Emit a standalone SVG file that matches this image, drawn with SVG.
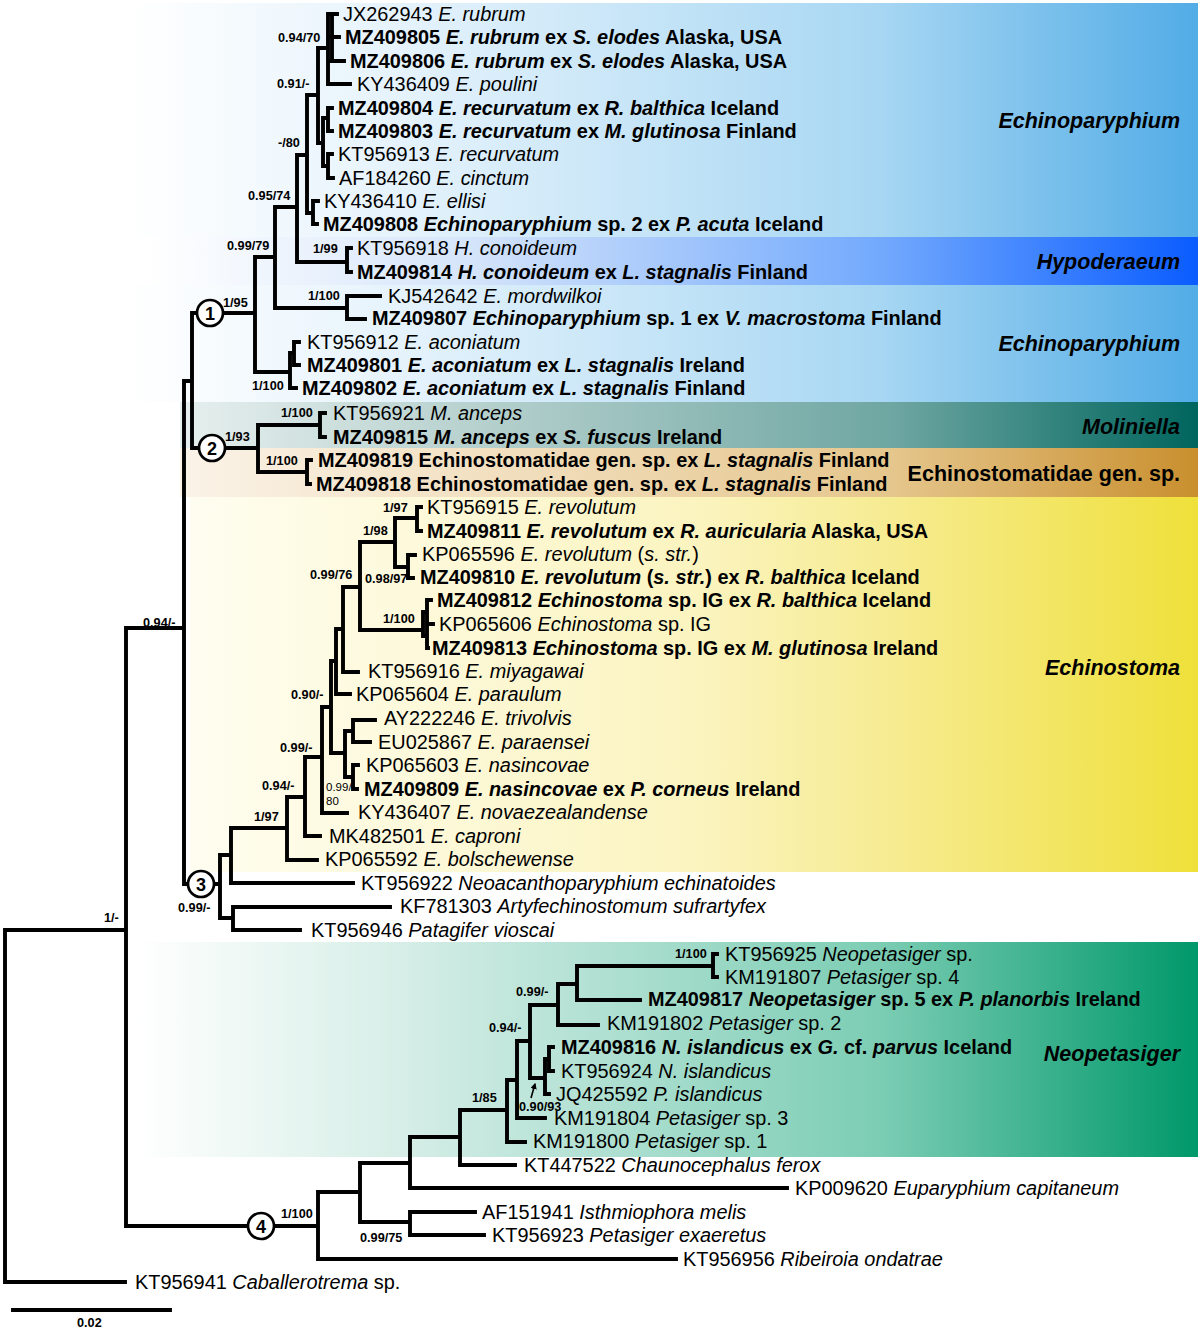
<svg xmlns="http://www.w3.org/2000/svg" width="1200" height="1329" viewBox="0 0 1200 1329">
<defs>
<linearGradient id="gEp" x1="0" y1="0" x2="1" y2="0"><stop offset="0" stop-color="#ffffff"/><stop offset="0.25" stop-color="#e6f3fc"/><stop offset="0.7" stop-color="#a8d7f3"/><stop offset="1" stop-color="#52ace6"/></linearGradient>
<linearGradient id="gHy" x1="0" y1="0" x2="1" y2="0"><stop offset="0" stop-color="#ffffff"/><stop offset="0.3" stop-color="#d6e5fa"/><stop offset="0.7" stop-color="#72a9fd"/><stop offset="1" stop-color="#0a5cff"/></linearGradient>
<linearGradient id="gMo" x1="0" y1="0" x2="1" y2="0"><stop offset="0" stop-color="#e6efee"/><stop offset="0.3" stop-color="#b5d0cd"/><stop offset="0.7" stop-color="#6ea6a2"/><stop offset="1" stop-color="#00655d"/></linearGradient>
<linearGradient id="gEc" x1="0" y1="0" x2="1" y2="0"><stop offset="0" stop-color="#fbf3e8"/><stop offset="0.7" stop-color="#e5c68c"/><stop offset="1" stop-color="#c98f2e"/></linearGradient>
<linearGradient id="gEs" x1="0" y1="0" x2="1" y2="0"><stop offset="0" stop-color="#fffdf0"/><stop offset="0.5" stop-color="#fbf4c0"/><stop offset="0.7" stop-color="#f6eb90"/><stop offset="1" stop-color="#efe03a"/></linearGradient>
<linearGradient id="gNe" x1="0" y1="0" x2="1" y2="0"><stop offset="0" stop-color="#ffffff"/><stop offset="0.25" stop-color="#d6eee7"/><stop offset="0.7" stop-color="#7ccdb4"/><stop offset="1" stop-color="#00986a"/></linearGradient>
<marker id="ah" viewBox="0 0 10 10" refX="8" refY="5" markerWidth="4" markerHeight="4" orient="auto"><path d="M0,0 L10,5 L0,10 z" fill="#000"/></marker>
<style>
.ln{fill:none;stroke:#000;stroke-width:3.9;stroke-linecap:square}
.t{font-family:"Liberation Sans",Arial,sans-serif;font-size:19.9px;fill:#000}
.b{font-weight:bold}
.i{font-style:italic}
.s{font-family:"Liberation Sans",Arial,sans-serif;font-size:12.7px;font-weight:bold;fill:#000}
.s2{font-family:"Liberation Sans",Arial,sans-serif;font-size:11.5px;fill:#000}
.c{font-family:"Liberation Sans",Arial,sans-serif;font-size:21.5px;font-weight:bold;font-style:italic;text-anchor:end;fill:#000}
.cr{font-family:"Liberation Sans",Arial,sans-serif;font-size:21.5px;font-weight:bold;font-style:normal;text-anchor:end;fill:#000}
.cn{font-family:"Liberation Sans",Arial,sans-serif;font-size:18px;font-weight:bold;text-anchor:middle;fill:#000}
.circ{fill:#fff;stroke:#000;stroke-width:2.7}
</style>
</defs>
<rect width="1200" height="1329" fill="#fff"/>
<g id="bands">
<rect x="128" y="3" width="1070" height="234" fill="url(#gEp)"/>
<rect x="150" y="237" width="1048" height="48" fill="url(#gHy)"/>
<rect x="128" y="285" width="1070" height="117" fill="url(#gEp)"/>
<rect x="180" y="402" width="1018" height="46" fill="url(#gMo)"/>
<rect x="180" y="448" width="1018" height="49" fill="url(#gEc)"/>
<rect x="190" y="497" width="1008" height="375" fill="url(#gEs)"/>
<rect x="135" y="942" width="1063" height="215" fill="url(#gNe)"/>
</g>
<g id="clade-labels">
<text class="c" x="1180" y="128">Echinoparyphium</text>
<text class="c" x="1180" y="269">Hypoderaeum</text>
<text class="c" x="1180" y="351">Echinoparyphium</text>
<text class="c" x="1180" y="434">Moliniella</text>
<text class="cr" x="1180" y="481">Echinostomatidae gen. sp.</text>
<text class="c" x="1180" y="675">Echinostoma</text>
<text class="c" x="1180" y="1061">Neopetasiger</text>
</g>
<g id="connectors">
<path class="ln" d="M5,930 V1282 M5,930 H126 M5,1282 H125
M126,628 V1226 M126,628 H184 M126,1226 H248 M274,1226 H318
M184,381 V884 M184,381 H192 M184,884 H188 M214,884 H220
M192,313 V448 M192,313 H197 M223,313 H255 M192,448 H199 M225,448 H258
M255,257 V372 M255,257 H275 M255,372 H290
M275,207 V308 M275,207 H297 M275,308 H347
M347,296 V319 M347,296 H380 M347,319 H365
M297,155 V262 M297,155 H307 M297,262 H347
M347,248 V272 M347,248 H351 M347,272 H351
M307,95 V213 M307,95 H318 M307,213 H313
M313,201 V224 M313,201 H318 M313,224 H317
M318,48 V143 M318,48 H328 M318,143 H323
M328,14 V84 M328,84 H350 M332,14 V61 M331,14 H337 M331,37 H339 M331,61 H344
M323,118 V166 M323,118 H328 M323,166 H328 M328,108 V131 M328,154 V178 M328,108 H332 M328,131 H332 M328,154 H332 M328,178 H333
M290,353 V388 M290,388 H296 M290,353 H294 M294,342 V365 M294,342 H299 M294,365 H299
M258,425 V472 M258,425 H320 M258,472 H307
M320,413 V437 M320,413 H325 M320,437 H325
M307,460 V484 M307,460 H311 M307,484 H310
M220,855 V918 M220,855 H231 M220,918 H233
M233,907 V930 M233,907 H390 M233,930 H300
M231,828 V883 M231,828 H287 M231,883 H353
M287,797 V860 M287,797 H305 M287,860 H317
M305,757 V836 M305,757 H322 M305,836 H320
M322,707 V813 M322,707 H331 M322,813 H347
M331,661 V753 M331,661 H336 M331,753 H345
M336,629 V694 M336,629 H343 M336,694 H350
M343,587 V672 M343,587 H360 M343,672 H358
M360,542 V630 M360,542 H395 M360,630 H423
M395,518 V567 M395,518 H417 M395,567 H408
M417,507 V531 M417,507 H421 M417,531 H421
M408,555 V578 M408,555 H415 M408,578 H413
M423,612 V636 M423,612 H427 M423,636 H427 M427,600 V648 M427,600 H431 M427,624 H433 M427,648 H428
M345,731 V777 M345,731 H353 M345,777 H353
M353,720 V742 M353,720 H375 M353,742 H370
M353,765 V789 M353,765 H358 M353,789 H357
M318,1192 V1259 M318,1192 H360 M318,1259 H676
M360,1163 V1222 M360,1163 H410 M360,1222 H410
M410,1212 V1235 M410,1212 H475 M410,1235 H484
M410,1137 V1188 M410,1137 H460 M410,1188 H787
M460,1110 V1165 M460,1110 H507 M460,1165 H515
M507,1080 V1142 M507,1080 H517 M507,1142 H525
M517,1041 V1118 M517,1041 H530 M517,1118 H545
M530,1005 V1078 M530,1005 H558 M530,1078 H545
M545,1059 V1094 M545,1094 H549 M545,1059 H549 M549,1047 V1071 M549,1047 H553 M549,1071 H553
M558,984 V1025 M558,984 H577 M558,1025 H598
M577,966 V1000 M577,966 H713 M577,1000 H640
M713,954 V977 M713,954 H717 M713,977 H717"/>
<path d="M531,1098 L535,1084" stroke="#000" stroke-width="1.6" fill="none" marker-end="url(#ah)"/>
<path class="ln" d="M13,1310 H170" stroke-width="3"/>
</g>
<g id="circle-nodes">
<g id="n1"><circle class="circ" cx="210" cy="313" r="13"/><text class="cn" x="210" y="319.5">1</text></g>
<g id="n2"><circle class="circ" cx="212" cy="448" r="13"/><text class="cn" x="212" y="454.5">2</text></g>
<g id="n3"><circle class="circ" cx="201" cy="884" r="13"/><text class="cn" x="201" y="890.5">3</text></g>
<g id="n4"><circle class="circ" cx="261" cy="1226" r="13"/><text class="cn" x="261" y="1232.5">4</text></g>
</g>
<g id="support">
<text class="s" x="278" y="42">0.94/70</text>
<text class="s" x="277" y="88">0.91/-</text>
<text class="s" x="278" y="147">-/80</text>
<text class="s" x="248" y="200">0.95/74</text>
<text class="s" x="227" y="250">0.99/79</text>
<text class="s" x="313" y="253">1/99</text>
<text class="s" x="223" y="307">1/95</text>
<text class="s" x="308" y="300">1/100</text>
<text class="s" x="252" y="390">1/100</text>
<text class="s" x="281" y="417">1/100</text>
<text class="s" x="225" y="441">1/93</text>
<text class="s" x="266" y="465">1/100</text>
<text class="s" x="383" y="512">1/97</text>
<text class="s" x="363" y="535">1/98</text>
<text class="s" x="310" y="579">0.99/76</text>
<text class="s" x="365" y="583">0.98/97</text>
<text class="s" x="383" y="623">1/100</text>
<text class="s" x="143" y="627">0.94/-</text>
<text class="s" x="291" y="699">0.90/-</text>
<text class="s" x="280" y="752">0.99/-</text>
<text class="s" x="262" y="790">0.94/-</text>
<text class="s2" x="326" y="791">0.99/</text>
<text class="s2" x="326" y="805">80</text>
<text class="s" x="254" y="821">1/97</text>
<text class="s" x="178" y="912">0.99/-</text>
<text class="s" x="104" y="922">1/-</text>
<text class="s" x="675" y="958">1/100</text>
<text class="s" x="516" y="996">0.99/-</text>
<text class="s" x="489" y="1032">0.94/-</text>
<text class="s" x="472" y="1102">1/85</text>
<text class="s" x="519" y="1111">0.90/93</text>
<text class="s" x="281" y="1218">1/100</text>
<text class="s" x="360" y="1242">0.99/75</text>
<text class="s" x="77" y="1327">0.02</text>
</g>
<g id="leaves">
<text id="L1" class="t" x="343" y="21">JX262943 <tspan class="i">E. rubrum</tspan></text>
<text id="L2" class="t b" x="345" y="44">MZ409805 <tspan class="i">E. rubrum</tspan> ex <tspan class="i">S. elodes</tspan> Alaska, USA</text>
<text id="L3" class="t b" x="350" y="68">MZ409806 <tspan class="i">E. rubrum</tspan> ex <tspan class="i">S. elodes</tspan> Alaska, USA</text>
<text id="L4" class="t" x="357" y="91">KY436409 <tspan class="i">E. poulini</tspan></text>
<text id="L5" class="t b" x="338" y="115">MZ409804 <tspan class="i">E. recurvatum</tspan> ex <tspan class="i">R. balthica</tspan> Iceland</text>
<text id="L6" class="t b" x="338" y="138">MZ409803 <tspan class="i">E. recurvatum</tspan> ex <tspan class="i">M. glutinosa</tspan> Finland</text>
<text id="L7" class="t" x="338" y="161">KT956913 <tspan class="i">E. recurvatum</tspan></text>
<text id="L8" class="t" x="339" y="185">AF184260 <tspan class="i">E. cinctum</tspan></text>
<text id="L9" class="t" x="324" y="208">KY436410 <tspan class="i">E. ellisi</tspan></text>
<text id="L10" class="t b" x="323" y="231">MZ409808 <tspan class="i">Echinoparyphium</tspan> sp. 2 ex <tspan class="i">P. acuta</tspan> Iceland</text>
<text id="L11" class="t" x="357" y="255">KT956918 <tspan class="i">H. conoideum</tspan></text>
<text id="L12" class="t b" x="357" y="279">MZ409814 <tspan class="i">H. conoideum</tspan> ex <tspan class="i">L. stagnalis</tspan> Finland</text>
<text id="L13" class="t" x="388" y="303">KJ542642 <tspan class="i">E. mordwilkoi</tspan></text>
<text id="L14" class="t b" x="372" y="325">MZ409807 <tspan class="i">Echinoparyphium</tspan> sp. 1 ex <tspan class="i">V. macrostoma</tspan> Finland</text>
<text id="L15" class="t" x="307" y="349">KT956912 <tspan class="i">E. aconiatum</tspan></text>
<text id="L16" class="t b" x="307" y="372">MZ409801 <tspan class="i">E. aconiatum</tspan> ex <tspan class="i">L. stagnalis</tspan> Ireland</text>
<text id="L17" class="t b" x="302" y="395">MZ409802 <tspan class="i">E. aconiatum</tspan> ex <tspan class="i">L. stagnalis</tspan> Finland</text>
<text id="L18" class="t" x="333" y="420">KT956921 <tspan class="i">M. anceps</tspan></text>
<text id="L19" class="t b" x="333" y="444">MZ409815 <tspan class="i">M. anceps</tspan> ex <tspan class="i">S. fuscus</tspan> Ireland</text>
<text id="L20" class="t b" x="318" y="467">MZ409819 Echinostomatidae gen. sp. ex <tspan class="i">L. stagnalis</tspan> Finland</text>
<text id="L21" class="t b" x="316" y="491">MZ409818 Echinostomatidae gen. sp. ex <tspan class="i">L. stagnalis</tspan> Finland</text>
<text id="L22" class="t" x="427" y="514">KT956915 <tspan class="i">E. revolutum</tspan></text>
<text id="L23" class="t b" x="427" y="538">MZ409811 <tspan class="i">E. revolutum</tspan> ex <tspan class="i">R. auricularia</tspan> Alaska, USA</text>
<text id="L24" class="t" x="422" y="561">KP065596 <tspan class="i">E. revolutum</tspan> (<tspan class="i">s. str.</tspan>)</text>
<text id="L25" class="t b" x="420" y="584">MZ409810 <tspan class="i">E. revolutum</tspan> (<tspan class="i">s. str.</tspan>) ex <tspan class="i">R. balthica</tspan> Iceland</text>
<text id="L26" class="t b" x="437" y="607">MZ409812 <tspan class="i">Echinostoma</tspan> sp. IG ex <tspan class="i">R. balthica</tspan> Iceland</text>
<text id="L27" class="t" x="439" y="631">KP065606 <tspan class="i">Echinostoma</tspan> sp. IG</text>
<text id="L28" class="t b" x="432" y="655">MZ409813 <tspan class="i">Echinostoma</tspan> sp. IG ex <tspan class="i">M. glutinosa</tspan> Ireland</text>
<text id="L29" class="t" x="368" y="678">KT956916 <tspan class="i">E. miyagawai</tspan></text>
<text id="L30" class="t" x="356" y="701">KP065604 <tspan class="i">E. paraulum</tspan></text>
<text id="L31" class="t" x="384" y="725">AY222246 <tspan class="i">E. trivolvis</tspan></text>
<text id="L32" class="t" x="378" y="749">EU025867 <tspan class="i">E. paraensei</tspan></text>
<text id="L33" class="t" x="366" y="772">KP065603 <tspan class="i">E. nasincovae</tspan></text>
<text id="L34" class="t b" x="364" y="796">MZ409809 <tspan class="i">E. nasincovae</tspan> ex <tspan class="i">P. corneus</tspan> Ireland</text>
<text id="L35" class="t" x="358" y="819">KY436407 <tspan class="i">E. novaezealandense</tspan></text>
<text id="L36" class="t" x="329" y="843">MK482501 <tspan class="i">E. caproni</tspan></text>
<text id="L37" class="t" x="325" y="866">KP065592 <tspan class="i">E. bolschewense</tspan></text>
<text id="L38" class="t" x="361" y="890">KT956922 <tspan class="i">Neoacanthoparyphium echinatoides</tspan></text>
<text id="L39" class="t" x="400" y="913">KF781303 <tspan class="i">Artyfechinostomum sufrartyfex</tspan></text>
<text id="L40" class="t" x="311" y="937">KT956946 <tspan class="i">Patagifer vioscai</tspan></text>
<text id="L41" class="t" x="725" y="961">KT956925 <tspan class="i">Neopetasiger</tspan> sp.</text>
<text id="L42" class="t" x="725" y="984">KM191807 <tspan class="i">Petasiger</tspan> sp. 4</text>
<text id="L43" class="t b" x="648" y="1006">MZ409817 <tspan class="i">Neopetasiger</tspan> sp. 5 ex <tspan class="i">P. planorbis</tspan> Ireland</text>
<text id="L44" class="t" x="607" y="1030">KM191802 <tspan class="i">Petasiger</tspan> sp. 2</text>
<text id="L45" class="t b" x="561" y="1054">MZ409816 <tspan class="i">N. islandicus</tspan> ex <tspan class="i">G.</tspan> cf. <tspan class="i">parvus</tspan> Iceland</text>
<text id="L46" class="t" x="561" y="1078">KT956924 <tspan class="i">N. islandicus</tspan></text>
<text id="L47" class="t" x="556" y="1101">JQ425592 <tspan class="i">P. islandicus</tspan></text>
<text id="L48" class="t" x="554" y="1125">KM191804 <tspan class="i">Petasiger</tspan> sp. 3</text>
<text id="L49" class="t" x="533" y="1148">KM191800 <tspan class="i">Petasiger</tspan> sp. 1</text>
<text id="L50" class="t" x="524" y="1172">KT447522 <tspan class="i">Chaunocephalus ferox</tspan></text>
<text id="L51" class="t" x="795" y="1195">KP009620 <tspan class="i">Euparyphium capitaneum</tspan></text>
<text id="L52" class="t" x="482" y="1219">AF151941 <tspan class="i">Isthmiophora melis</tspan></text>
<text id="L53" class="t" x="492" y="1242">KT956923 <tspan class="i">Petasiger exaeretus</tspan></text>
<text id="L54" class="t" x="683" y="1266">KT956956 <tspan class="i">Ribeiroia ondatrae</tspan></text>
<text id="L55" class="t" x="135" y="1289">KT956941 <tspan class="i">Caballerotrema</tspan> sp.</text>
</g>
</svg>
